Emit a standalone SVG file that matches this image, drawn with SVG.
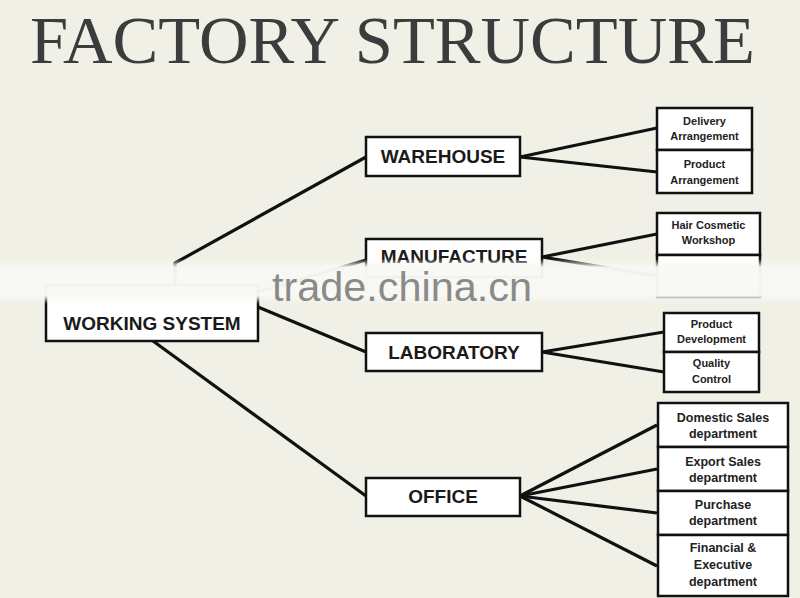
<svg xmlns="http://www.w3.org/2000/svg" width="800" height="598" viewBox="0 0 800 598">
<defs>
<linearGradient id="band" x1="0" y1="0" x2="0" y2="1">
<stop offset="0" stop-color="#f8f8f4" stop-opacity="0"/>
<stop offset="0.18" stop-color="#f8f8f4" stop-opacity="0.97"/>
<stop offset="0.82" stop-color="#f8f8f4" stop-opacity="0.97"/>
<stop offset="1" stop-color="#f8f8f4" stop-opacity="0"/>
</linearGradient>
</defs>
<style>
.box{fill:#ffffff;stroke:#111;stroke-width:2.5}
.main{font-family:"Liberation Sans",Arial,sans-serif;font-weight:bold;font-size:19px;fill:#1a1a1a;text-anchor:middle}
.sub{font-family:"Liberation Sans",Arial,sans-serif;font-weight:bold;font-size:11px;fill:#222;text-anchor:middle}
.sub2{font-family:"Liberation Sans",Arial,sans-serif;font-weight:bold;font-size:12.5px;fill:#222;text-anchor:middle}
.conn line,.conn polyline{stroke:#111;stroke-width:3.2;fill:none}
</style>
<rect x="0" y="0" width="800" height="598" fill="#f0f0e7"/>
<text x="30" y="63" font-family="Liberation Serif,'Times New Roman',serif" font-size="68" fill="#3c3c3c" textLength="725" lengthAdjust="spacingAndGlyphs">FACTORY STRUCTURE</text>

<g id="connectors" class="conn">
<polyline points="175,290 175,263 366,157"/>
<line x1="258" y1="292" x2="366" y2="260"/>
<line x1="258" y1="307" x2="366" y2="352"/>
<line x1="153" y1="341" x2="366" y2="496"/>
<line x1="520" y1="157" x2="657" y2="128"/>
<line x1="520" y1="157" x2="657" y2="172"/>
<line x1="542" y1="257" x2="657" y2="234"/>
<line x1="542" y1="257" x2="657" y2="276"/>
<line x1="542" y1="352" x2="664" y2="332"/>
<line x1="542" y1="352" x2="664" y2="372"/>
<line x1="520" y1="496" x2="657" y2="425"/>
<line x1="520" y1="496" x2="657" y2="469"/>
<line x1="520" y1="496" x2="657" y2="513"/>
<line x1="520" y1="496" x2="657" y2="566"/>
</g>

<g id="working-system"><rect class="box" x="46" y="285" width="212" height="56"/><text class="main" x="152" y="330">WORKING SYSTEM</text></g>
<g id="warehouse"><rect class="box" x="366" y="137" width="154" height="39"/><text class="main" x="443" y="163">WAREHOUSE</text></g>
<g id="manufacture"><rect class="box" x="366" y="239" width="176" height="38"/><text class="main" x="454" y="263">MANUFACTURE</text></g>
<g id="laboratory"><rect class="box" x="366" y="333" width="176" height="38"/><text class="main" x="454" y="359">LABORATORY</text></g>
<g id="office"><rect class="box" x="366" y="478" width="154" height="38"/><text class="main" x="443" y="503">OFFICE</text></g>

<g id="delivery"><rect class="box" x="657" y="108" width="95" height="42"/><text class="sub" x="704.5" y="125">Delivery</text><text class="sub" x="704.5" y="140">Arrangement</text></g>
<g id="product-arr"><rect class="box" x="657" y="150" width="95" height="43"/><text class="sub" x="704.5" y="168">Product</text><text class="sub" x="704.5" y="184">Arrangement</text></g>
<g id="hair"><rect class="box" x="657" y="213" width="103" height="42"/><text class="sub" x="708.5" y="229">Hair Cosmetic</text><text class="sub" x="708.5" y="244">Workshop</text></g>
<g id="hidden-child"><rect class="box" x="657" y="255" width="103" height="42"/></g>
<g id="product-dev"><rect class="box" x="664" y="313" width="95" height="39"/><text class="sub" x="711.5" y="328">Product</text><text class="sub" x="711.5" y="343">Development</text></g>
<g id="quality"><rect class="box" x="664" y="352" width="95" height="40"/><text class="sub" x="711.5" y="367">Quality</text><text class="sub" x="711.5" y="383">Control</text></g>
<g id="domestic"><rect class="box" x="658" y="403" width="130" height="44"/><text class="sub2" x="723" y="422">Domestic Sales</text><text class="sub2" x="723" y="438">department</text></g>
<g id="export"><rect class="box" x="658" y="447" width="130" height="44"/><text class="sub2" x="723" y="466">Export Sales</text><text class="sub2" x="723" y="482">department</text></g>
<g id="purchase"><rect class="box" x="658" y="491" width="130" height="44"/><text class="sub2" x="723" y="509">Purchase</text><text class="sub2" x="723" y="525">department</text></g>
<g id="financial"><rect class="box" x="658" y="535" width="130" height="61"/><text class="sub2" x="723" y="552">Financial &amp;</text><text class="sub2" x="723" y="569">Executive</text><text class="sub2" x="723" y="586">department</text></g>

<rect x="0" y="259" width="800" height="45" fill="url(#band)"/>
<text x="272" y="301" font-family="Liberation Sans,Arial,sans-serif" font-size="40" fill="#8a8a8a" textLength="260" lengthAdjust="spacingAndGlyphs">trade.china.cn</text>
</svg>
